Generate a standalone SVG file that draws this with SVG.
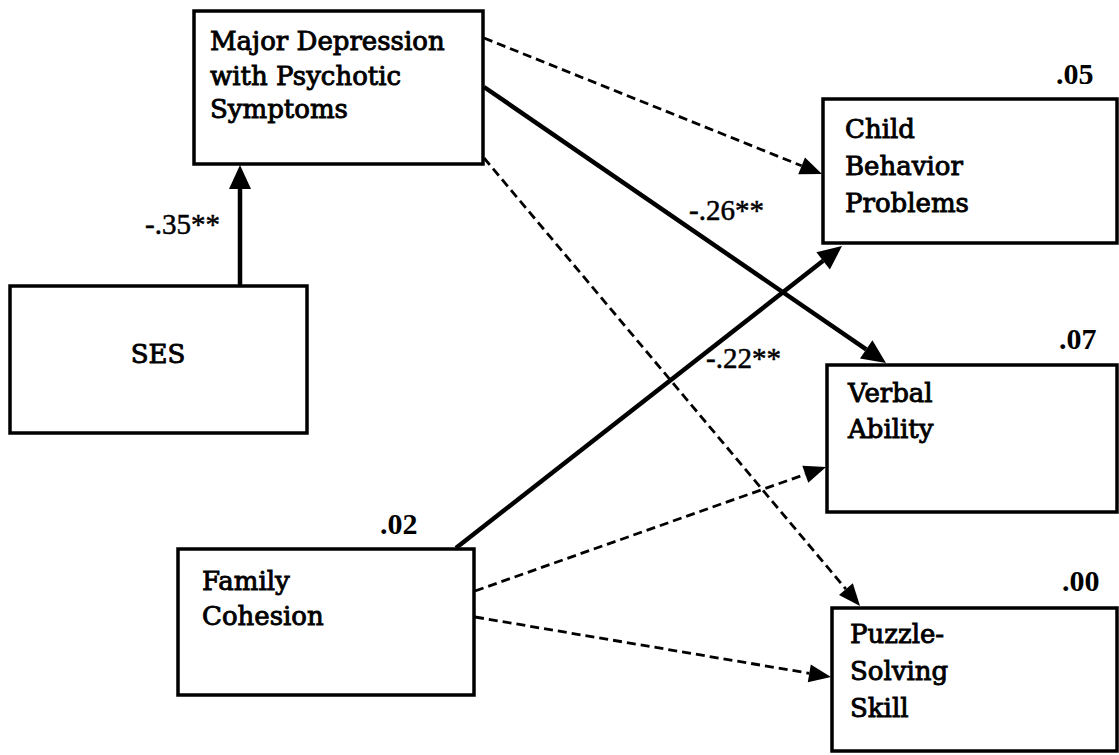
<svg xmlns="http://www.w3.org/2000/svg" width="1119" height="755" viewBox="0 0 1119 755">
  <style>
    .box { fill: #fff; stroke: #000; stroke-width: 3.5; }
    .lbl { font-family: "DejaVu Serif", "Liberation Serif", serif; font-size: 26px; fill: #000; stroke: #000; stroke-width: 0.9; }
    .r2 { font-family: "Liberation Serif", serif; font-size: 30px; font-weight: bold; fill: #000; }
    .coef { font-family: "Liberation Serif", serif; font-size: 29px; fill: #000; stroke: #000; stroke-width: 0.5; }
    .solid { fill: none; stroke: #000; stroke-width: 4.5; }
    .dash { fill: none; stroke: #000; stroke-width: 2.8; stroke-dasharray: 9 5; }
  </style>
  <defs>
    <marker id="headSolid" markerUnits="userSpaceOnUse" markerWidth="26" markerHeight="24" refX="0" refY="12" orient="auto" overflow="visible">
      <path d="M0,1 L24,12 L0,23 z" fill="#000"/>
    </marker>
    <marker id="headDash" markerUnits="userSpaceOnUse" markerWidth="24" markerHeight="22" refX="0" refY="10" orient="auto" overflow="visible">
      <path d="M0,1 L22,10 L0,19 z" fill="#000"/>
    </marker>
  </defs>

  <rect width="1119" height="755" fill="#fff"/>

  <!-- paths between variables -->
  <g id="connectors">
    <line class="solid" x1="240" y1="286" x2="240" y2="189" marker-end="url(#headSolid)"/>
    <line class="dash" x1="484" y1="38" x2="801.6" y2="165.8" marker-end="url(#headDash)"/>
    <line class="solid" x1="484" y1="87" x2="866.2" y2="349.4" marker-end="url(#headSolid)"/>
    <line class="dash" x1="484" y1="158" x2="845.9" y2="589.1" marker-end="url(#headDash)"/>
    <line class="solid" x1="456" y1="548" x2="823.1" y2="260.8" marker-end="url(#headSolid)"/>
    <line class="dash" x1="475" y1="591" x2="805.3" y2="474.3" marker-end="url(#headDash)"/>
    <line class="dash" x1="475" y1="617" x2="809.3" y2="673.3" marker-end="url(#headDash)"/>
    <text class="coef" x="145" y="234">-.35**</text>
    <text class="coef" x="689" y="220">-.26**</text>
    <text class="coef" x="706" y="368">-.22**</text>
  </g>

  <g id="depression">
    <rect class="box" x="194" y="11" width="289" height="153"/>
    <text class="lbl" x="210" y="50">Major Depression</text>
    <text class="lbl" x="210" y="85">with Psychotic</text>
    <text class="lbl" x="210" y="118">Symptoms</text>
  </g>

  <g id="ses">
    <rect class="box" x="10" y="286" width="297" height="147"/>
    <text class="lbl" x="158" y="363" text-anchor="middle">SES</text>
  </g>

  <g id="family">
    <rect class="box" x="178" y="549" width="296" height="146"/>
    <text class="r2" x="380" y="534">.02</text>
    <text class="lbl" x="202" y="590">Family</text>
    <text class="lbl" x="202" y="625">Cohesion</text>
  </g>

  <g id="behavior">
    <rect class="box" x="823" y="99" width="294" height="144"/>
    <text class="r2" x="1056" y="84">.05</text>
    <text class="lbl" x="845" y="138">Child</text>
    <text class="lbl" x="845" y="175">Behavior</text>
    <text class="lbl" x="845" y="212">Problems</text>
  </g>

  <g id="verbal">
    <rect class="box" x="827" y="365" width="290" height="147"/>
    <text class="r2" x="1059" y="349">.07</text>
    <text class="lbl" x="848" y="402">Verbal</text>
    <text class="lbl" x="848" y="438">Ability</text>
  </g>

  <g id="puzzle">
    <rect class="box" x="832" y="608" width="285" height="143"/>
    <text class="r2" x="1062" y="591">.00</text>
    <text class="lbl" x="850" y="643">Puzzle-</text>
    <text class="lbl" x="850" y="680">Solving</text>
    <text class="lbl" x="850" y="717">Skill</text>
  </g>
</svg>
